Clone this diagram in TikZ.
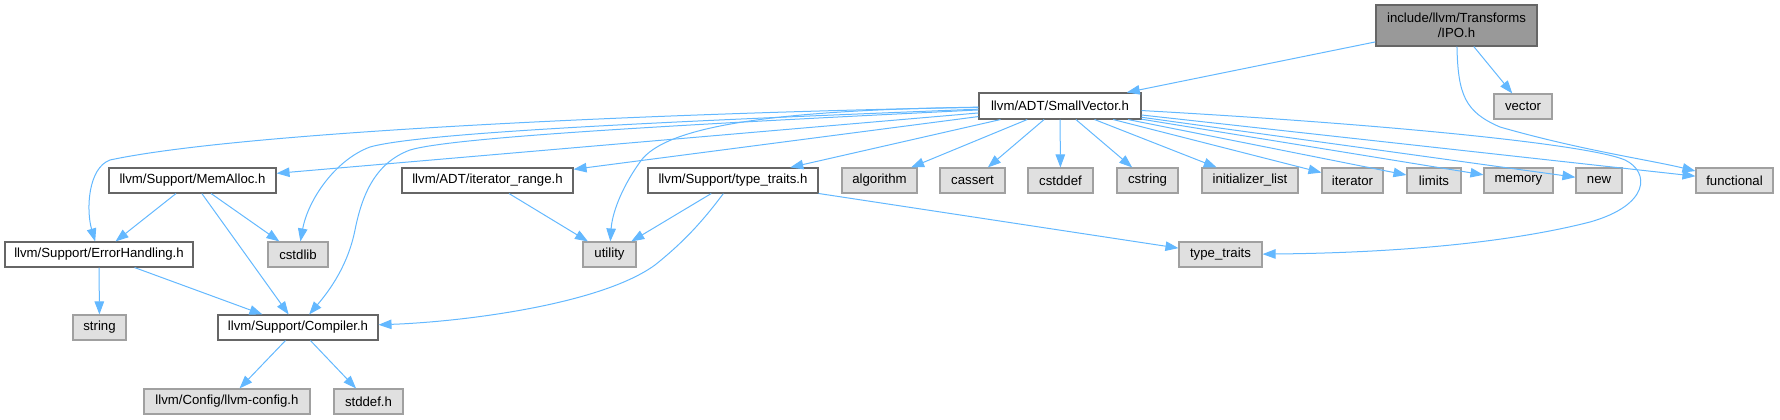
\documentclass[tikz,border=0pt]{standalone}
\usepackage{fontspec}
\setmainfont{Liberation Sans}
\usetikzlibrary{arrows.meta}
\definecolor{edgeblue}{HTML}{63B8FF}
\definecolor{boxborder}{HTML}{666666}
\definecolor{sysborder}{HTML}{A0A0A0}
\definecolor{sysfill}{HTML}{E0E0E0}
\definecolor{rootfill}{HTML}{999999}
\begin{document}
\begin{tikzpicture}[x=1pt,y=-1pt,
  box/.style={draw=boxborder, fill=white, line width=1.1pt, inner sep=0pt,
    minimum height=25pt, font=\fontsize{13.2}{15}\selectfont},
  sysbox/.style={box, draw=sysborder, fill=sysfill},
  rootbox/.style={box, draw=boxborder, fill=rootfill, align=center},
  edge/.style={draw=edgeblue, line width=1pt, -{Triangle[length=13pt,width=9.5pt]}}]
\useasboundingbox (0,0) rectangle (1780,420);
% row 0
\node[rootbox, minimum width=161pt, minimum height=41pt] (ipo) at (1456.5,25.5) {include/llvm/Transforms\\/IPO.h};
% row 1
\node[box, minimum width=162pt, minimum height=26pt] (sv) at (1060,106) {llvm/ADT/SmallVector.h};
\node[sysbox, minimum width=58pt] (vector) at (1523,106.5) {vector};
% row 2
\node[box, minimum width=167pt] (mem) at (192.5,180.5) {llvm/Support/MemAlloc.h};
\node[box, minimum width=171pt] (iter) at (487.5,180.5) {llvm/ADT/iterator\_range.h};
\node[box, minimum width=170pt] (stt) at (733,180.5) {llvm/Support/type\_traits.h};
\node[sysbox, minimum width=75pt] (algorithm) at (879.5,180.5) {algorithm};
\node[sysbox, minimum width=65pt] (cassert) at (972.5,180.5) {cassert};
\node[sysbox, minimum width=65pt] (cstddef) at (1060.5,180.5) {cstddef};
\node[sysbox, minimum width=61pt] (cstring) at (1147.5,180.5) {cstring};
\node[sysbox, minimum width=96pt] (initlist) at (1250,180.5) {initializer\_list};
\node[sysbox, minimum width=61pt] (iterator) at (1352.5,180.5) {iterator};
\node[sysbox, minimum width=54pt] (limits) at (1434,180.5) {limits};
\node[sysbox, minimum width=69pt] (memory) at (1518.5,180.5) {memory};
\node[sysbox, minimum width=46pt] (new) at (1599,180.5) {new};
\node[sysbox, minimum width=77pt] (functional) at (1734.5,180.5) {functional};
% row 3
\node[box, minimum width=188pt] (eh) at (99,254.5) {llvm/Support/ErrorHandling.h};
\node[sysbox, minimum width=60pt] (cstdlib) at (298,254.5) {cstdlib};
\node[sysbox, minimum width=53pt] (utility) at (609.5,254.5) {utility};
\node[sysbox, minimum width=83pt] (tt) at (1220.5,254.5) {type\_traits};
% row 4
\node[sysbox, minimum width=53pt] (string) at (99.5,327.5) {string};
\node[box, minimum width=160pt] (comp) at (298,327.5) {llvm/Support/Compiler.h};
% row 5
\node[sysbox, minimum width=166pt] (config) at (227,401.5) {llvm/Config/llvm-config.h};
\node[sysbox, minimum width=69pt] (stddef) at (368.5,401.5) {stddef.h};

% edges from IPO.h
\draw[edge] (ipo) -- (sv);
\draw[edge] (ipo) -- (vector);
\draw[edge] (ipo) .. controls (1458,95) and (1465,112) .. (1500,127)
  .. controls (1580,150) and (1650,160) .. (functional);

% edges from SmallVector.h
\draw[edge] (sv) .. controls (700,112) and (250,130) .. (110,160)
  .. controls (88,168) and (86,210) .. (eh);
\draw[edge] (sv) -- (mem);
\draw[edge] (sv) .. controls (650,122) and (420,133) .. (370,147)
  .. controls (335,160) and (308,200) .. (cstdlib);
\draw[edge] (sv) .. controls (650,126) and (450,138) .. (410,150)
  .. controls (375,163) and (362,195) .. (355,230)
  .. controls (348,265) and (330,290) .. (comp);
\draw[edge] (sv) -- (iter);
\draw[edge] (sv) .. controls (780,110) and (665,125) .. (640,162)
  .. controls (620,190) and (612,215) .. (utility);
\draw[edge] (sv) -- (stt);
\draw[edge] (sv) -- (algorithm);
\draw[edge] (sv) -- (cassert);
\draw[edge] (sv) -- (cstddef);
\draw[edge] (sv) -- (cstring);
\draw[edge] (sv) -- (initlist);
\draw[edge] (sv) -- (iterator);
\draw[edge] (sv) -- (limits);
\draw[edge] (sv) -- (memory);
\draw[edge] (sv) -- (new);
\draw[edge] (sv) -- (functional);
\draw[edge] (sv) .. controls (1400,125) and (1590,145) .. (1625,160)
  .. controls (1650,172) and (1650,205) .. (1590,222)
  .. controls (1500,245) and (1380,253) .. (tt);

% MemAlloc.h
\draw[edge] (mem) -- (eh);
\draw[edge] (mem) -- (cstdlib);
\draw[edge] (mem) -- (comp);
% ErrorHandling.h
\draw[edge] (eh) -- (string);
\draw[edge] (eh) -- (comp);
% iterator_range.h
\draw[edge] (iter) -- (utility);
% type_traits.h
\draw[edge] (stt) -- (utility);
\draw[edge] (stt) .. controls (700,225) and (680,245) .. (655,265)
  .. controls (600,305) and (460,322) .. (comp);
\draw[edge] (stt) -- (tt);
% Compiler.h
\draw[edge] (comp) -- (config);
\draw[edge] (comp) -- (stddef);
\end{tikzpicture}
\end{document}
